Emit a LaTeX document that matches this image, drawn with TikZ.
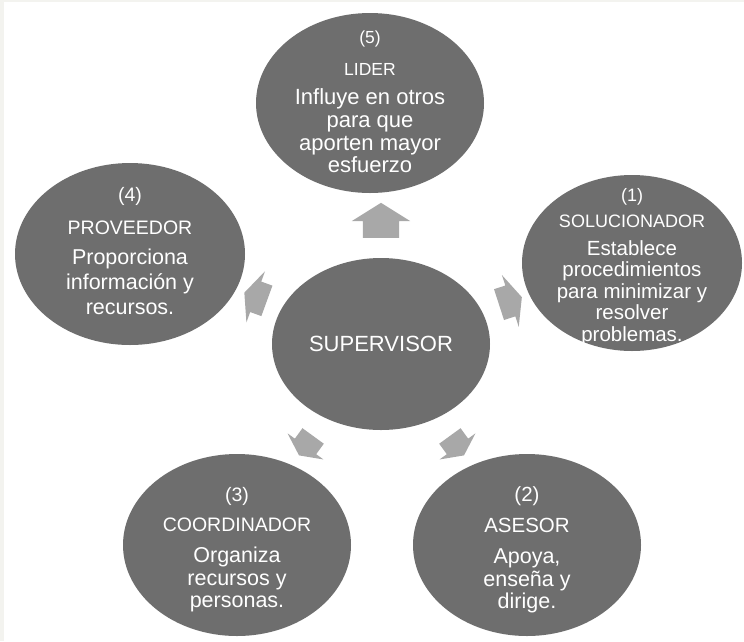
\documentclass[tikz,border=0pt]{standalone}
\usepackage{fontspec}
\setmainfont{Liberation Sans}
\usetikzlibrary{shapes.geometric,shapes.arrows}
\definecolor{bolagris}{HTML}{6E6E6E}
\definecolor{flechagris}{HTML}{A8A8A8}
\definecolor{marcogris}{HTML}{F3F3EF}
\newcommand{\fs}[2]{\fontsize{#1}{#2}\selectfont}
\newcommand{\tit}[2]{{\fontsize{#1}{#1}\selectfont #2}}

\begin{document}
\begin{tikzpicture}[x=1pt, y=1pt,
    bola/.style={ellipse, fill=bolagris, inner sep=0pt},
    texto/.style={align=center, text=white, inner sep=0pt},
    flecha/.style={single arrow, fill=flechagris, inner xsep=0pt, minimum width=0pt}]
    % fondo con marco gris claro
    \fill[marcogris] (0,0) rectangle (744,-641);
    \fill[white] (4,-2) rectangle (744,-641);
    \useasboundingbox (0,0) rectangle (744,-641);
    % elipse central
    \node[bola, minimum width=218, minimum height=172] (sup) at (381,-344) {};
    % elipses exteriores
    \node[bola, minimum width=228, minimum height=180] (lid) at (370,-103) {};
    \node[bola, minimum width=220, minimum height=176] (sol) at (632,-263) {};
    \node[bola, minimum width=230, minimum height=182] (pro) at (130,-254) {};
    \node[bola, minimum width=228, minimum height=182] (coo) at (237,-545) {};
    \node[bola, minimum width=228, minimum height=182] (ase) at (527,-545) {};
    % textos
    \node[texto, font=\fs{22}{26}] at (sup) {SUPERVISOR};
    \node[texto, font=\fs{22}{22.7}] at ([yshift=1]lid.center)
      {\tit{17.5}{(5)}\\[9pt]\tit{17.5}{LIDER}\\[7pt]Influye en otros\\para que\\aporten mayor\\esfuerzo};
    \node[texto, font=\fs{20.5}{21.5}] at ([yshift=-4]sol.center)
      {\tit{18}{(1)}\\[5pt]\tit{18}{SOLUCIONADOR}\\[6pt]Establece\\procedimientos\\para minimizar y\\resolver\\problemas.};
    \node[texto, font=\fs{21.5}{25}] at ([yshift=3]pro.center)
      {\tit{19.5}{(4)}\\[8pt]\tit{19.5}{PROVEEDOR}\\[5pt]Proporciona\\información y\\recursos.};
    \node[texto, font=\fs{21.5}{22.5}] at ([yshift=-5]coo.center)
      {\tit{19.5}{(3)}\\[7pt]\tit{19.5}{COORDINADOR}\\[9pt]Organiza\\recursos y\\personas.};
    \node[texto, font=\fs{21.5}{22.5}] at ([yshift=-5]ase.center)
      {\tit{20.5}{(2)}\\[8pt]\tit{20.5}{ASESOR}\\[9pt]Apoya,\\enseña y\\dirige.};
    % flechas hacia afuera
    \node[flecha, rotate=90, minimum height=35, inner ysep=18,
      single arrow head extend=11, single arrow tip angle=116] (f5) at (381,-226) {};
    \node[flecha, rotate=18, minimum height=24, inner ysep=16,
      single arrow head extend=11, single arrow tip angle=132] (f1) at (507,-302) {};
    \node[flecha, rotate=-54, minimum height=24, inner ysep=13,
      single arrow head extend=9, single arrow tip angle=127] (f2) at (455,-443) {};
    \node[flecha, rotate=-126, minimum height=24, inner ysep=13,
      single arrow head extend=9, single arrow tip angle=127] (f3) at (308,-443) {};
    \node[flecha, rotate=160, minimum height=24, inner ysep=16,
      single arrow head extend=11, single arrow tip angle=132] (f4) at (259,-298) {};
\end{tikzpicture}
\end{document}
